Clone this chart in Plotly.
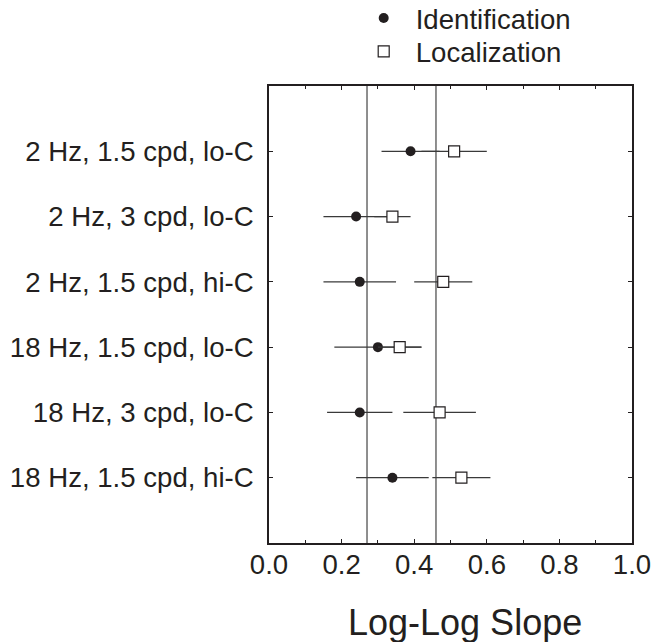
import plotly.graph_objects as go

conditions = ["2 Hz, 1.5 cpd, lo-C", "2 Hz, 3 cpd, lo-C", "2 Hz, 1.5 cpd, hi-C",
              "18 Hz, 1.5 cpd, lo-C", "18 Hz, 3 cpd, lo-C", "18 Hz, 1.5 cpd, hi-C"]
rows = [1, 2, 3, 4, 5, 6]
ident_slope = [0.39, 0.24, 0.25, 0.30, 0.25, 0.34]
ident_err = [0.08, 0.09, 0.10, 0.12, 0.09, 0.10]
local_slope = [0.51, 0.34, 0.48, 0.36, 0.47, 0.53]
local_err = [0.09, 0.05, 0.08, 0.06, 0.10, 0.08]
ref_lines = [0.27, 0.46]
x_ticks = [0.0, 0.2, 0.4, 0.6, 0.8, 1.0]
x_tick_labels = ["0.0", "0.2", "0.4", "0.6", "0.8", "1.0"]

FONT = "Liberation Sans, Arial, Helvetica, sans-serif"
INK = "#231f20"
BAR = "#3a3a3a"
FS = 27.6
W, H = 652, 642

fig = go.Figure()
fig.add_trace(go.Scatter(
    x=ident_slope, y=rows, mode="markers", name="Identification", legend="legend",
    marker=dict(symbol="circle", size=10, color=INK, line=dict(width=0)),
    error_x=dict(type="data", array=ident_err, visible=True, width=0,
                 color=BAR, thickness=1.2),
))
fig.add_trace(go.Scatter(
    x=local_slope, y=rows, mode="markers", name="Localization", legend="legend2",
    marker=dict(symbol="square", size=11, color="white", line=dict(width=1.2, color=INK)),
    error_x=dict(type="data", array=local_err, visible=True, width=0,
                 color=BAR, thickness=1.2),
))

for xv in ref_lines:
    fig.add_shape(type="line", x0=xv, x1=xv, xref="x", y0=0, y1=1, yref="paper",
                  line=dict(color="#444444", width=1.2), layer="below")

fig.add_annotation(text="Log-Log Slope", x=0.54, xref="paper",
                   y=-0.173, yref="paper",
                   xanchor="center", yanchor="middle", showarrow=False,
                   font=dict(family=FONT, size=36, color=INK))

fig.update_xaxes(range=[0, 1], tickvals=x_ticks, ticktext=x_tick_labels,
                 ticks="inside", ticklen=4, tickcolor=INK, tickwidth=1.2,
                 minor=dict(dtick=0.1, ticks="inside", ticklen=3, tickcolor=INK, tickwidth=1.2),
                 showline=True, linecolor=INK, linewidth=1.5, mirror="ticks",
                 showgrid=False, zeroline=False, automargin=False,
                 ticklabeloverflow="allow",
                 tickfont=dict(family=FONT, size=FS, color=INK), ticklabelstandoff=-4)
fig.update_yaxes(range=[7, 0], tickvals=rows, ticktext=conditions,
                 ticks="inside", ticklen=4, tickcolor=INK, tickwidth=1.2,
                 showline=True, linecolor=INK, linewidth=1.5, mirror="ticks",
                 showgrid=False, zeroline=False, automargin=False,
                 ticklabeloverflow="allow",
                 tickfont=dict(family=FONT, size=FS, color=INK), ticklabelstandoff=8)

leg_common = dict(xref="container", yref="container", xanchor="left", yanchor="middle",
                  itemwidth=54, font=dict(family=FONT, size=FS, color=INK),
                  bgcolor="rgba(0,0,0,0)", borderwidth=0)
fig.update_layout(
    width=W, height=H,
    margin=dict(l=269, r=W - 632, t=86, b=H - 543, autoexpand=False),
    paper_bgcolor="white", plot_bgcolor="white",
    showlegend=True,
    legend=dict(x=351.7 / W, y=1 - 18 / H, **leg_common),
    legend2=dict(x=351.7 / W, y=1 - 51.5 / H, **leg_common),
)

fig.write_html("out.html", config={"displayModeBar": False},
               post_script="document.body.style.margin='0';document.body.style.overflow='hidden';")
